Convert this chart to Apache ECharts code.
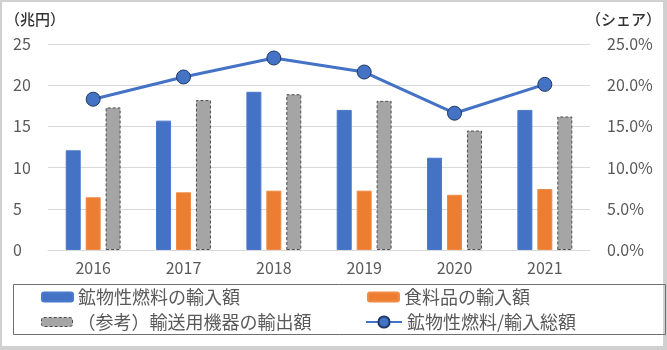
<!DOCTYPE html>
<html>
<head>
<meta charset="utf-8">
<script src="https://cdn.jsdelivr.net/npm/echarts@6/dist/echarts.min.js"></script>
<style>
html,body{margin:0;padding:0;background:#fff;}
#chart{width:667px;height:350px;}
</style>
</head>
<body>
<div id="chart"></div>
<script>
const years = ['2016','2017','2018','2019','2020','2021'];
const fuelImports = [12.1, 15.7, 19.2, 17.0, 11.2, 17.0];
const foodImports = [6.4, 7.0, 7.2, 7.2, 6.7, 7.4];
const transportExports = [17.3, 18.2, 18.9, 18.1, 14.5, 16.2];
const fuelShare = [18.3, 21.0, 23.3, 21.6, 16.6, 20.1];
const names = ['鉱物性燃料の輸入額', '食料品の輸入額', '（参考）輸送用機器の輸出額', '鉱物性燃料/輸入総額'];

const FONT = '"Noto Sans CJK JP", "Noto Sans", sans-serif';
const chart = echarts.init(document.getElementById('chart'), null, {renderer: 'canvas'});

function legendFor(name, left, top, extra) {
  return Object.assign({
    data: [name], left: left, top: top, padding: 0, itemGap: 0,
    itemWidth: 31, itemHeight: 9,
    textStyle: {fontFamily: FONT, fontSize: 18, color: '#595959', lineHeight: 20, padding: [0, 0, 0, 0]},
    selectedMode: false
  }, extra || {});
}

chart.setOption({
  animation: false,
  backgroundColor: '#fff',
  textStyle: {fontFamily: FONT},
  graphic: [
    {type: 'rect', z: -10, shape: {x: 0, y: 0, width: 667, height: 350}, style: {fill: '#d0d0d0'}},
    {type: 'rect', z: -9, shape: {x: 2, y: 2, width: 661, height: 344}, style: {fill: '#ffffff'}},
    {type: 'rect', z: -8, shape: {x: 13.5, y: 284.5, width: 652, height: 50}, style: {fill: 'none', stroke: '#6f6f6f', lineWidth: 1}},
    {type: 'text', left: 5, top: 12, style: {text: '（兆円）', font: '500 15px ' + FONT, fill: '#333333'}},
    {type: 'text', right: 6, top: 12, style: {text: '（シェア）', font: '500 15px ' + FONT, fill: '#333333'}}
  ],
  grid: {left: 48, right: 77, top: 44, height: 206, containLabel: false},
  legend: [
    legendFor(names[0], 41, 287),
    legendFor(names[1], 367, 287),
    legendFor(names[2], 41, 312, {itemStyle: {color: '#A5A5A5', borderColor: '#4d4d4d', borderWidth: 1, borderType: [3, 2]}}),
    legendFor(names[3], 365, 312, {itemWidth: 36, itemHeight: 14})
  ],
  xAxis: {
    type: 'category', data: years,
    axisLine: {lineStyle: {color: '#d9d9d9', width: 1}},
    axisTick: {show: false},
    axisLabel: {fontSize: 16, color: '#595959', margin: 10, fontFamily: FONT}
  },
  yAxis: [
    {
      type: 'value', min: 0, max: 25, interval: 5,
      axisLine: {show: false}, axisTick: {show: false},
      splitLine: {lineStyle: {color: '#d9d9d9', width: 1}},
      axisLabel: {fontSize: 16, color: '#595959', align: 'left', margin: 35, fontFamily: FONT}
    },
    {
      type: 'value', min: 0, max: 25, interval: 5,
      axisLine: {show: false}, axisTick: {show: false},
      splitLine: {show: false},
      axisLabel: {fontSize: 16, color: '#595959', align: 'left', margin: 17, fontFamily: FONT,
        formatter: v => v.toFixed(1) + '%'}
    }
  ],
  series: [
    {name: names[0], type: 'bar', data: fuelImports, barWidth: 15, barGap: '33%',
     itemStyle: {color: '#4472C4', borderColor: '#4a78cc', borderWidth: 1}},
    {name: names[1], type: 'bar', data: foodImports, barWidth: 15, barGap: '33%',
     itemStyle: {color: '#ED7D31', borderColor: '#f08a44', borderWidth: 1}},
    {name: names[2], type: 'bar', data: transportExports, barWidth: 15, barGap: '33%',
     itemStyle: {color: '#A5A5A5', borderColor: '#4d4d4d', borderWidth: 1, borderType: [3, 2]}},
    {name: names[3], type: 'line', yAxisIndex: 1, data: fuelShare,
     symbol: 'circle', symbolSize: 14,
     lineStyle: {color: '#4472C4', width: 3},
     itemStyle: {color: '#4472C4', borderColor: '#203864', borderWidth: 1}, z: 5}
  ]
});
</script>
</body>
</html>
